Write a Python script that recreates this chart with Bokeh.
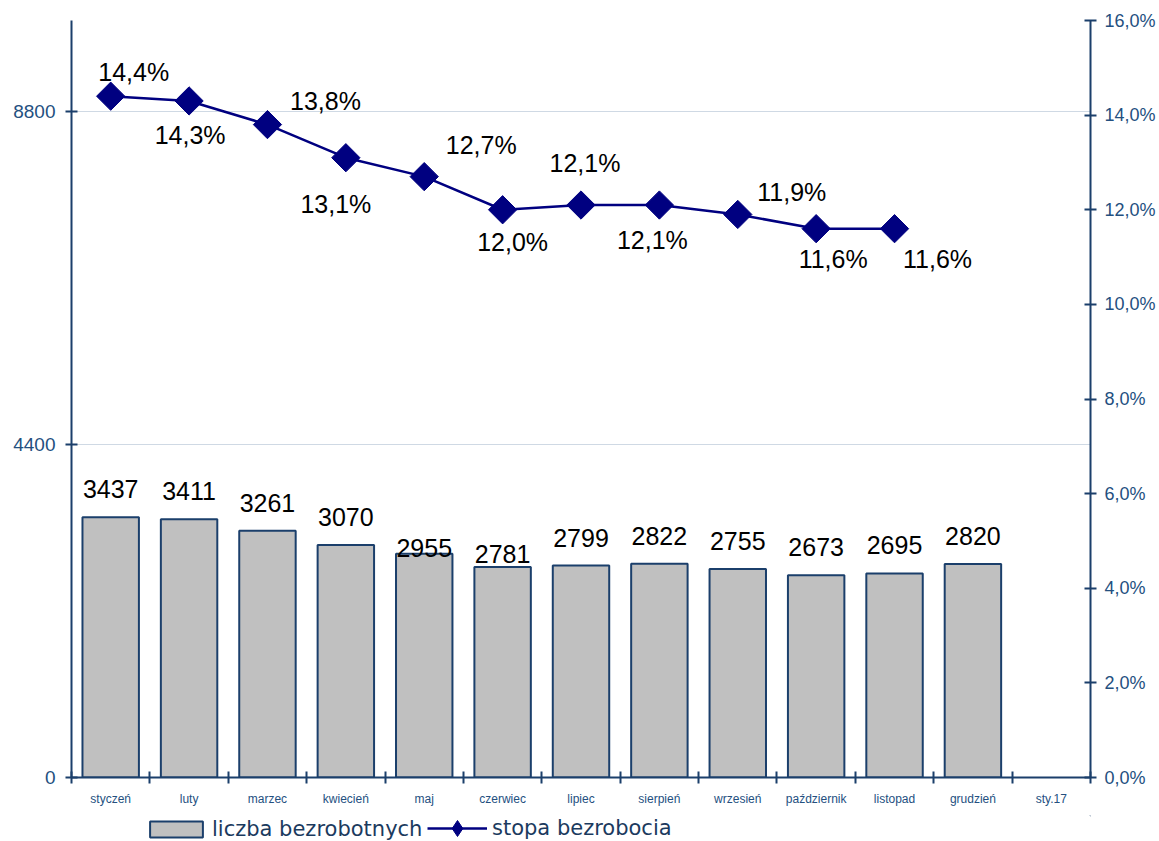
import numpy as np
from bokeh.plotting import figure
from bokeh.layouts import column
from bokeh.models import (Range1d, LinearAxis, FixedTicker, CustomJSTickFormatter,
                          ColumnDataSource, LabelSet, Legend, LegendItem)
from bokeh.core.properties import value
from bokeh.embed import file_html
from bokeh.resources import INLINE

# ---- data ----
months = ["styczeń", "luty", "marzec", "kwiecień", "maj", "czerwiec", "lipiec",
          "sierpień", "wrzesień", "październik", "listopad", "grudzień", "sty.17"]
unemployed = [3437, 3411, 3261, 3070, 2955, 2781, 2799, 2822, 2755, 2673, 2695, 2820]
rate = [14.4, 14.3, 13.8, 13.1, 12.7, 12.0, 12.1, 12.1, 11.9, 11.6, 11.6]
left_ticks = [0, 4400, 8800]
right_ticks = [0, 2, 4, 6, 8, 10, 12, 14, 16]
series_names = ["liczba bezrobotnych", "stopa bezrobocia"]

# ---- label placement (screen px; positive y = up) ----
bar_label_dy = [19, 19, 19, 19, -3, 4, 19, 19, 19, 19, 19, 19]
rate_label_dx = [23, 1, 58, -10, 57, 10, 4, -7, 54, 17, 43]
rate_label_dy = [24, -34, 24, -46, 32, -32, 42, -35, 22, -30, -30]

AXIS = "#1B3F6B"
TICKLBL = "#24507F"
NAVY = "#000080"
FONT = "'Liberation Sans'"

W = 1159
H_MAIN = 815
H_LEG = 26

p = figure(width=W, height=H_MAIN, output_backend="svg", toolbar_location=None,
           x_range=Range1d(0, len(months)), y_range=Range1d(0, 10000),
           min_border_left=71, min_border_right=W - 1090,
           min_border_top=20, min_border_bottom=H_MAIN - 777)
p.outline_line_color = None
p.background_fill_color = "white"
p.border_fill_color = "white"
p.extra_y_ranges = {"pct": Range1d(0, 16)}

# bars
xb = [i + 0.5 for i in range(len(unemployed))]
bsrc = ColumnDataSource(dict(x=xb, top=unemployed,
                             lbl=[str(v) for v in unemployed], dy=bar_label_dy))
p.vbar(x="x", top="top", width=0.72, bottom=0, source=bsrc,
       fill_color="#C0C0C0", line_color=AXIS, line_width=2)

# line + markers
xr = [i + 0.5 for i in range(len(rate))]
rsrc = ColumnDataSource(dict(x=xr, y=rate,
                             lbl=[("%.1f" % v).replace(".", ",") + "%" for v in rate],
                             dx=rate_label_dx, dy=rate_label_dy))
p.line(x="x", y="y", source=rsrc, y_range_name="pct",
       line_color=NAVY, line_width=2.5)
p.scatter(x="x", y="y", source=rsrc, y_range_name="pct", marker="square",
          angle=np.pi / 4, size=20, fill_color=NAVY, line_color=NAVY)

# labels
p.add_layout(LabelSet(x="x", y="top", text="lbl", y_offset="dy", source=bsrc,
                      text_align="center", text_baseline="alphabetic",
                      text_font=value("Liberation Sans"), text_font_size="25px",
                      text_color="black"))
p.add_layout(LabelSet(x="x", y="y", text="lbl", x_offset="dx", y_offset="dy",
                      source=rsrc, y_range_name="pct",
                      text_align="center", text_baseline="middle",
                      text_font=value("Liberation Sans"), text_font_size="25px",
                      text_color="black"))

# grid
p.xgrid.visible = False
p.ygrid.ticker = FixedTicker(ticks=[4400, 8800])
p.ygrid.grid_line_color = "#9FB2C8"
p.ygrid.grid_line_dash = "1 1"
p.ygrid.grid_line_width = 1

def style_axis(ax):
    ax.axis_line_color = AXIS
    ax.axis_line_width = 2
    ax.major_tick_line_color = AXIS
    ax.major_tick_line_width = 2
    ax.minor_tick_line_color = None
    ax.major_label_text_color = TICKLBL
    ax.major_label_text_font = FONT

# left axis
ya = p.yaxis[0]
style_axis(ya)
ya.ticker = FixedTicker(ticks=left_ticks)
ya.formatter = CustomJSTickFormatter(code="return tick.toFixed(0);")
ya.major_tick_in = 6
ya.major_tick_out = 6
ya.major_label_standoff = 10
ya.major_label_text_font_size = "19px"

# right axis
ra = LinearAxis(y_range_name="pct")
style_axis(ra)
ra.ticker = FixedTicker(ticks=right_ticks)
ra.formatter = CustomJSTickFormatter(
    code="return tick.toFixed(1).replace('.', ',') + '%';")
ra.major_tick_in = 6
ra.major_tick_out = 6
ra.major_label_standoff = 8
ra.major_label_text_font_size = "18px"
p.add_layout(ra, "right")

# x axis
xa = p.xaxis[0]
style_axis(xa)
xa.ticker = FixedTicker(ticks=[i + 0.5 for i in range(len(months))],
                        minor_ticks=list(range(len(months) + 1)))
xa.formatter = CustomJSTickFormatter(args=dict(labels=months),
                                     code="return labels[Math.floor(tick)];")
xa.major_tick_in = 0
xa.major_tick_out = 0
xa.minor_tick_line_color = AXIS
xa.minor_tick_line_width = 2
xa.minor_tick_in = 6
xa.minor_tick_out = 6
xa.major_label_standoff = 8
xa.major_label_text_font_size = "12px"

# ---- legend strip below ----
lg = figure(width=W, height=H_LEG, output_backend="svg", toolbar_location=None,
            x_range=Range1d(0, 1), y_range=Range1d(0, 1),
            min_border=0, min_border_left=0, min_border_right=0,
            min_border_top=0, min_border_bottom=0)
lg.axis.visible = False
lg.grid.visible = False
lg.outline_line_color = None
lg.background_fill_color = "white"
lg.border_fill_color = "white"
# off-range sample glyphs: they only provide the legend swatches
r_bar = lg.vbar(x=[5], top=[5], bottom=[4], width=0.5, fill_color="#C0C0C0",
                line_color=AXIS, line_width=2)
r_line = lg.line(x=[5, 6], y=[5, 5], line_color=NAVY, line_width=2.5)
r_mark = lg.scatter(x=[5], y=[5], marker="diamond", size=11,
                    fill_color=NAVY, line_color=NAVY)

common = dict(orientation="horizontal", padding=0, margin=0, spacing=0,
              border_line_color=None, background_fill_alpha=0,
              label_text_font="'DejaVu Sans'", label_text_font_size="21px",
              label_text_color="#1B3A5E")
legend1 = Legend(items=[LegendItem(label=series_names[0], renderers=[r_bar])],
                 location=(72, 0), label_standoff=3,
                 glyph_width=66, glyph_height=20, **common)
legend2 = Legend(items=[LegendItem(label=series_names[1], renderers=[r_line, r_mark])],
                 location=(356, -7), label_standoff=5,
                 glyph_width=60, glyph_height=40, **common)
lg.add_layout(legend1)
lg.add_layout(legend2)

page = column(p, lg, spacing=0)
open("out.html", "w").write(file_html(page, INLINE))
